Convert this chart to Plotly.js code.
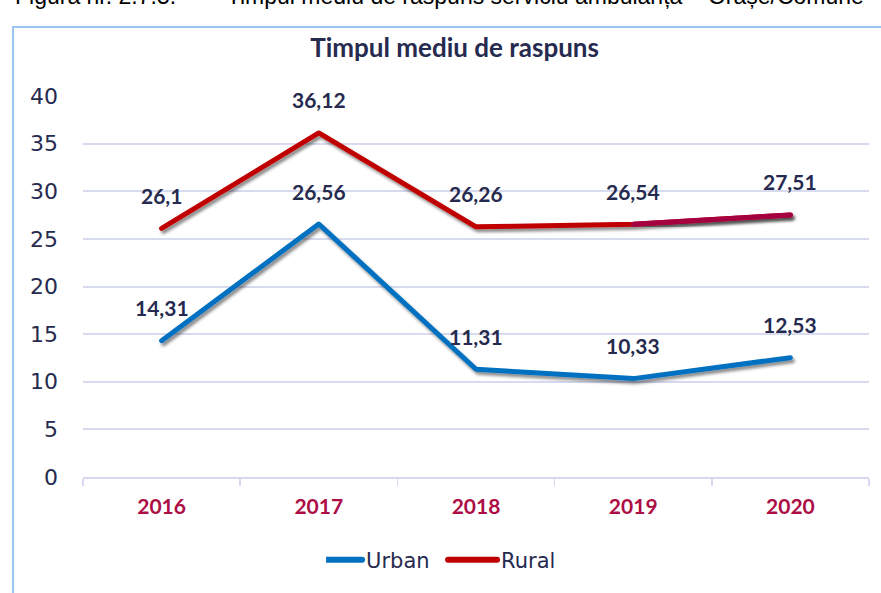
<!DOCTYPE html>
<html>
<head>
<meta charset="utf-8">
<script src="https://cdn.plot.ly/plotly-3.0.1.min.js"></script>
<style>
  html, body { margin: 0; padding: 0; background: #fff; width: 881px; height: 593px; overflow: hidden; position: relative; }
  #caption { position: absolute; left: 15px; top: -17px; white-space: pre; font-family: "Liberation Sans", Arial, sans-serif; font-size: 23px; color: #000; }
  #frame { position: absolute; left: 12px; top: 26px; width: 900px; height: 600px; border: 2px solid #9DC3F2; box-sizing: border-box; }
  #chart { position: absolute; left: 0; top: 0; width: 881px; height: 593px; }
</style>
</head>
<body>
<div id="caption">Figura nr. 2.7.5.    –  Timpul mediu de raspuns serviciu ambulanța – Orașe/Comune</div>
<div id="frame"></div>
<div id="chart"></div>
<script>
const years = ["2016", "2017", "2018", "2019", "2020"];
const urban = [14.31, 26.56, 11.31, 10.33, 12.53];
const rural = [26.1, 36.12, 26.26, 26.54, 27.51];
const yTicks = [0, 5, 10, 15, 20, 25, 30, 35, 40];

const fmt = v => String(v).replace('.', ',');
const labelColor = '#262A4F';

const traces = [
  { x: years, y: urban, name: 'Urban', type: 'scatter', mode: 'lines',
    line: { color: '#0070C0', width: 5 }, hoverinfo: 'skip' },
  { x: years, y: rural, name: 'Rural', type: 'scatter', mode: 'lines',
    line: { color: '#C00000', width: 5 }, hoverinfo: 'skip' },
  { x: years.slice(3), y: rural.slice(3), name: 'Rural', type: 'scatter', mode: 'lines',
    line: { color: '#A50041', width: 5 }, showlegend: false, hoverinfo: 'skip' }
];

const annotations = [];
[urban, rural].forEach(series => {
  series.forEach((v, i) => {
    annotations.push({
      x: i, y: v, xref: 'x', yref: 'y', text: fmt(v), showarrow: false,
      yshift: 33, xanchor: 'center', yanchor: 'middle',
      font: { family: 'Lato, "Open Sans", sans-serif', size: 21, color: labelColor, weight: 'bold' }
    });
  });
});

const layout = {
  width: 881, height: 593,
  margin: { l: 83, r: 12, t: 96, b: 116 },
  paper_bgcolor: 'rgba(0,0,0,0)', plot_bgcolor: 'rgba(0,0,0,0)',
  title: { text: '<b>Timpul mediu de raspuns</b>', x: 0.516, xref: 'container', xanchor: 'center',
           y: 1 - 48 / 593, yref: 'container', yanchor: 'middle',
           font: { family: 'Lato, "Open Sans", sans-serif', size: 26, color: labelColor } },
  xaxis: {
    type: 'category', categoryorder: 'array', categoryarray: years,
    range: [-0.5, years.length - 0.5], autorange: false,
    tickson: 'boundaries', ticks: 'outside', ticklen: 7, tickwidth: 1.5,
    tickcolor: '#D5D8EE', showline: true, linecolor: '#D5D8EE', linewidth: 2,
    showgrid: false, zeroline: false, fixedrange: true, tickangle: 0,
    tickfont: { family: 'Lato, "Open Sans", sans-serif', size: 21, color: '#AD0E45', weight: 'bold' },
    ticklabelstandoff: 10
  },
  yaxis: {
    range: [0, 40], autorange: false, tickvals: yTicks, ticktext: yTicks.map(String),
    showgrid: true, gridcolor: '#D8DBF0', gridwidth: 2, zeroline: false, showline: false,
    ticks: '', fixedrange: true, ticklabelstandoff: 24,
    tickfont: { family: '"DejaVu Sans", Verdana, sans-serif', size: 22, color: labelColor }
  },
  showlegend: true,
  legend: { orientation: 'h', x: 0.481, xanchor: 'center', y: -0.218, yanchor: 'middle',
            font: { family: '"DejaVu Sans", Verdana, sans-serif', size: 21, color: labelColor },
            entrywidth: 90, entrywidthmode: 'pixels', tracegroupgap: 0 },
  annotations: annotations
};

Plotly.newPlot('chart', traces, layout, { displayModeBar: false, staticPlot: true }).then(gd => {
  const svg = gd.querySelector('svg.main-svg');
  const ns = 'http://www.w3.org/2000/svg';
  let defs = svg.querySelector('defs');
  if (!defs) { defs = document.createElementNS(ns, 'defs'); svg.insertBefore(defs, svg.firstChild); }
  const filter = document.createElementNS(ns, 'filter');
  filter.setAttribute('id', 'lineShadow');
  filter.setAttribute('x', '-10%'); filter.setAttribute('y', '-30%');
  filter.setAttribute('width', '130%'); filter.setAttribute('height', '160%');
  const ds = document.createElementNS(ns, 'feDropShadow');
  ds.setAttribute('dx', '2'); ds.setAttribute('dy', '3'); ds.setAttribute('stdDeviation', '1.5');
  ds.setAttribute('flood-color', '#000'); ds.setAttribute('flood-opacity', '0.45');
  filter.appendChild(ds);
  defs.appendChild(filter);
  gd.querySelectorAll('.scatterlayer .js-line').forEach(p => {
    p.setAttribute('filter', 'url(#lineShadow)');
    p.style.strokeLinecap = 'round';
    p.style.strokeLinejoin = 'round';
  });
  gd.querySelectorAll('.legend .js-line').forEach(p => {
    p.setAttribute('d', 'M-13,0h49');
    p.style.strokeLinecap = 'round';
    p.style.strokeWidth = '6px';
  });
});
</script>
</body>
</html>
